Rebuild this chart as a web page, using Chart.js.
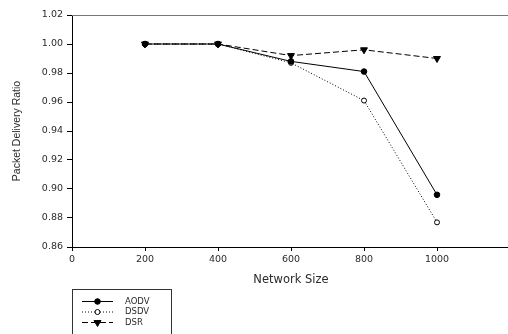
<!DOCTYPE html>
<html>
<head>
<meta charset="utf-8">
<script src="https://cdn.jsdelivr.net/npm/chart.js@4/dist/chart.umd.min.js"></script>
<style>
  html, body { margin: 0; padding: 0; background: #fff; overflow: hidden; }
  #wrap { width: 515px; height: 334px; position: relative; }
</style>
</head>
<body>
<div id="wrap"><canvas id="c"></canvas></div>
<script>
// ---- Data ----
const networkSizes = [200, 400, 600, 800, 1000];
const aodv = [1.000, 1.000, 0.988, 0.981, 0.896];
const dsdv = [1.000, 1.000, 0.987, 0.961, 0.877];
const dsr  = [1.000, 1.000, 0.992, 0.996, 0.990];
const seriesNames = ['AODV', 'DSDV', 'DSR'];
const xTickValues = [0, 200, 400, 600, 800, 1000];
const yTickValues = [0.86, 0.88, 0.90, 0.92, 0.94, 0.96, 0.98, 1.00, 1.02];
const xTitle = 'Network Size';
const yTitle = 'Packet Delivery Ratio';

const toPoints = arr => networkSizes.map((x, i) => ({ x: x, y: arr[i] }));

const tickFont = { family: 'DejaVu Sans', size: 9.5 };
const textColor = '#2a2a2a';

const frameAndLegend = {
  id: 'frameAndLegend',
  afterDraw(chart) {
    const ctx = chart.ctx;
    const a = chart.chartArea;
    ctx.save();
    // top frame line
    ctx.strokeStyle = '#777';
    ctx.lineWidth = 1;
    ctx.beginPath();
    ctx.moveTo(a.left, Math.round(a.top) + 0.5);
    ctx.lineTo(a.right, Math.round(a.top) + 0.5);
    ctx.stroke();

    // legend box
    const bx = 72.5, by = 289.5, bw = 99, bh = 60;
    ctx.strokeStyle = '#333';
    ctx.strokeRect(bx, by, bw, bh);

    const rowY = [301.5, 312, 322.5];
    const x0 = 82, x1 = 113, xm = 97.5;
    chart.data.datasets.forEach((ds, i) => {
      const y = rowY[i];
      ctx.save();
      ctx.strokeStyle = ds.borderColor;
      ctx.lineWidth = ds.borderWidth;
      ctx.setLineDash(ds.borderDash || []);
      ctx.beginPath();
      ctx.moveTo(x0, y);
      ctx.lineTo(x1, y);
      ctx.stroke();
      ctx.setLineDash([]);
      ctx.fillStyle = ds.pointBackgroundColor;
      ctx.strokeStyle = ds.pointBorderColor;
      ctx.lineWidth = 1;
      Chart.helpers.drawPoint(ctx, {
        pointStyle: ds.pointStyle,
        rotation: ds.pointRotation || 0,
        radius: ds.pointRadius,
        borderWidth: 1
      }, xm, y);
      ctx.restore();
      ctx.fillStyle = textColor;
      ctx.font = '8.5px "DejaVu Sans"';
      ctx.textBaseline = 'middle';
      ctx.textAlign = 'left';
      ctx.fillText(ds.label, 125, y);
    });
    ctx.restore();
  }
};

new Chart(document.getElementById('c'), {
  type: 'line',
  data: {
    datasets: [
      {
        label: seriesNames[0],
        data: toPoints(aodv),
        borderColor: '#000',
        borderWidth: 1,
        pointStyle: 'circle',
        pointRadius: 2.8,
        pointBackgroundColor: '#000',
        pointBorderColor: '#000',
        pointBorderWidth: 1,
        order: 1
      },
      {
        label: seriesNames[1],
        data: toPoints(dsdv),
        borderColor: '#000',
        borderWidth: 1,
        borderDash: [1, 2],
        pointStyle: 'circle',
        pointRadius: 2.5,
        pointBackgroundColor: '#fff',
        pointBorderColor: '#000',
        pointBorderWidth: 1,
        order: 2
      },
      {
        label: seriesNames[2],
        data: toPoints(dsr),
        borderColor: '#000',
        borderWidth: 1,
        borderDash: [6, 3],
        pointStyle: 'triangle',
        pointRotation: 180,
        pointRadius: 4,
        pointBackgroundColor: '#000',
        pointBorderColor: '#000',
        pointBorderWidth: 1,
        order: 0
      }
    ]
  },
  options: {
    responsive: true,
    maintainAspectRatio: false,
    animation: false,
    devicePixelRatio: 1,
    layout: { padding: { left: 7, top: 15, right: 0, bottom: 43 } },
    plugins: { legend: { display: false }, tooltip: { enabled: false } },
    elements: { line: { tension: 0 } },
    scales: {
      x: {
        type: 'linear',
        min: 0,
        max: 1200,
        afterBuildTicks: s => { s.ticks = xTickValues.map(v => ({ value: v })); },
        afterFit: s => { s.height = 44; },
        grid: { drawOnChartArea: false, drawTicks: true, tickLength: 4, color: '#000' },
        border: { display: true, color: '#000', width: 1 },
        ticks: { font: tickFont, color: textColor, padding: 3, maxRotation: 0, autoSkip: false,
                 callback: v => String(v) },
        title: { display: true, text: xTitle, color: textColor,
                 font: { family: 'DejaVu Sans', size: 11.5 }, padding: { top: 4, bottom: 4 } }
      },
      y: {
        min: 0.86,
        max: 1.02,
        afterBuildTicks: s => { s.ticks = yTickValues.map(v => ({ value: v })); },
        afterFit: s => { s.width = 65; },
        grid: { drawOnChartArea: false, drawTicks: true, tickLength: 5, color: '#000' },
        border: { display: true, color: '#000', width: 1 },
        ticks: { font: tickFont, color: textColor, padding: 4, autoSkip: false,
                 callback: v => Number(v).toFixed(2) },
        title: { display: true, text: yTitle, color: textColor,
                 font: { family: 'Liberation Sans', size: 10.5 }, padding: { top: 4, bottom: 4 } }
      }
    }
  },
  plugins: [frameAndLegend]
});
</script>
</body>
</html>
